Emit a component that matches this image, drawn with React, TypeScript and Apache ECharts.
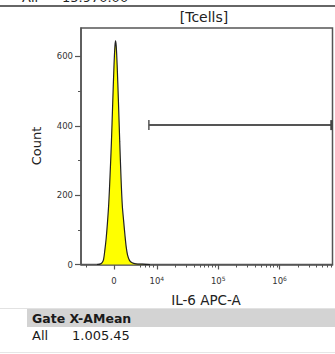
import React, { useEffect, useRef } from "react";
import * as echarts from "echarts";

// Histogram of IL-6 APC-A (x in display decades of the biexponential scale)
const channel = [
  3.024, 3.073, 3.111, 3.132, 3.153, 3.174, 3.195, 3.216, 3.237, 3.259, 3.28,
  3.301, 3.317, 3.327, 3.338, 3.353, 3.374, 3.395, 3.416, 3.437, 3.459, 3.48,
  3.501, 3.522, 3.554, 3.597, 3.659, 3.764, 3.886,
];
const counts = [
  0, 1, 6, 15, 42, 75, 120, 175, 255, 350, 462, 570, 630, 645, 630, 575, 470,
  355, 250, 170, 125, 85, 50, 28, 12, 5, 2, 1, 0,
];

const xMin = 2.764;
const xMax = 6.862;
const xMajorTicks = [3.3, 4, 5, 6];
const xMajorLabels = ["{b|0}", "{b|10}{s|4}", "{b|10}{s|5}", "{b|10}{s|6}"];
const xLinearMinor = [2.846, 3.724, 3.805, 3.87, 3.935];
const yMax = 682;
const yMajorTicks = [0, 200, 400, 600];
const yMinorTicks = [100, 300, 500];

const gateRange = [3.87, 6.862];
const gateLevel = 402;

const titleText = "[Tcells]";
const xTitle = "IL-6 APC-A";
const yTitle = "Count";
const topRow = ["All", "15.970.00"];
const statsHeader = "Gate X-AMean";
const statsRow = ["All", "1.005.45"];

const FONT = "DejaVu Sans";
const AXIS = "#555";

export default function App() {
  const ref = useRef<HTMLDivElement>(null);
  useEffect(() => {
    document.body.style.margin = "0";
    const chart = echarts.init(ref.current!, null, { renderer: "svg" });
    const xMinor: number[] = [...xLinearMinor];
    [4, 5, 6].forEach((d) => {
      for (let k = 2; k <= 9; k++) {
        const v = d + Math.log10(k);
        if (v < xMax - 0.01) xMinor.push(v);
      }
    });
    const data = channel.map((c, i) => [c, counts[i]]);
    const labelFmt = (v: number) => {
      const i = xMajorTicks.findIndex((t) => Math.abs(t - v) < 1e-6);
      return i >= 0 ? xMajorLabels[i] : "";
    };
    chart.setOption({
      animation: false,
      grid: {
        left: 81,
        top: 28,
        right: 2.5,
        bottom: 89.5,
        show: true,
        borderColor: AXIS,
        borderWidth: 1.5,
        backgroundColor: "transparent",
      },
      xAxis: [
        {
          type: "value",
          min: xMin,
          max: xMax,
          splitLine: { show: false },
          axisLine: { show: true, onZero: false, lineStyle: { color: AXIS, width: 1.5 } },
          axisTick: {
            show: true,
            length: 5,
            customValues: xMajorTicks,
            lineStyle: { color: AXIS, width: 1.2 },
          },
          axisLabel: {
            customValues: xMajorTicks,
            formatter: labelFmt,
            color: "#333",
            margin: 11,
            verticalAlign: "top",
            rich: {
              b: { fontFamily: FONT, fontSize: 8.5, color: "#333", lineHeight: 11 },
              s: { fontFamily: FONT, fontSize: 6, color: "#333", lineHeight: 11, verticalAlign: "top" },
            },
          },
        },
        {
          type: "value",
          min: xMin,
          max: xMax,
          position: "bottom",
          splitLine: { show: false },
          axisLine: { show: false },
          axisTick: {
            show: true,
            length: 3,
            customValues: xMinor,
            lineStyle: { color: AXIS, width: 1 },
          },
          axisLabel: { show: false },
        },
      ],
      yAxis: [
        {
          type: "value",
          min: 0,
          max: yMax,
          splitLine: { show: false },
          axisLine: { show: true, lineStyle: { color: AXIS, width: 1.5 } },
          axisTick: {
            show: true,
            length: 6,
            customValues: yMajorTicks,
            lineStyle: { color: AXIS, width: 1.2 },
          },
          axisLabel: {
            customValues: yMajorTicks,
            fontFamily: FONT,
            fontSize: 8.5,
            color: "#333",
            margin: 8,
          },
        },
        {
          type: "value",
          min: 0,
          max: yMax,
          position: "left",
          splitLine: { show: false },
          axisLine: { show: false },
          axisTick: {
            show: true,
            length: 3,
            customValues: yMinorTicks,
            lineStyle: { color: AXIS, width: 1 },
          },
          axisLabel: { show: false },
        },
      ],
      series: [
        {
          type: "line",
          data,
          showSymbol: false,
          smooth: 0.3,
          lineStyle: { color: "#222", width: 1.2 },
          areaStyle: { color: "#ffff00", opacity: 1 },
          z: 2,
        },
        {
          type: "custom",
          data: [[gateRange[0], gateRange[1], gateLevel]],
          renderItem: (params: any, api: any) => {
            const p0 = api.coord([api.value(0), api.value(2)]);
            const p1 = api.coord([api.value(1), api.value(2)]);
            const h = 5;
            return {
              type: "group",
              children: [
                {
                  type: "line",
                  shape: { x1: p0[0], y1: p0[1], x2: p1[0] - 1, y2: p1[1] },
                  style: { stroke: "#555", lineWidth: 2 },
                },
                {
                  type: "line",
                  shape: { x1: p0[0], y1: p0[1] - h, x2: p0[0], y2: p0[1] + h },
                  style: { stroke: "#555", lineWidth: 1.5 },
                },
                {
                  type: "line",
                  shape: { x1: p1[0] - 1, y1: p1[1] - h, x2: p1[0] - 1, y2: p1[1] + h },
                  style: { stroke: "#444", lineWidth: 2.5 },
                },
              ],
            };
          },
          z: 3,
        },
      ],
      graphic: [
        {
          type: "text",
          x: 22,
          y: 3.5,
          style: { text: topRow[0], font: `13px "${FONT}"`, fill: "#222", verticalAlign: "bottom" },
        },
        {
          type: "text",
          x: 62,
          y: 3.5,
          style: { text: topRow[1], font: `13px "${FONT}"`, fill: "#222", verticalAlign: "bottom" },
        },
        {
          type: "line",
          shape: { x1: 0, y1: 6, x2: 335, y2: 6 },
          style: { stroke: "#666", lineWidth: 2 },
        },
        {
          type: "text",
          x: 204,
          y: 17,
          style: { text: titleText, font: `14px "${FONT}"`, fill: "#222", align: "center", verticalAlign: "middle" },
        },
        {
          type: "text",
          x: 36,
          y: 146,
          rotation: Math.PI / 2,
          style: { text: yTitle, font: `13px "${FONT}"`, fill: "#222", align: "center", verticalAlign: "middle" },
        },
        {
          type: "text",
          x: 206,
          y: 300,
          style: { text: xTitle, font: `13.5px "${FONT}"`, fill: "#222", align: "center", verticalAlign: "middle" },
        },
        {
          type: "line",
          shape: { x1: 0, y1: 308.5, x2: 335, y2: 308.5 },
          style: { stroke: "#e2e2e2", lineWidth: 1 },
        },
        {
          type: "rect",
          shape: { x: 27, y: 309, width: 308, height: 18 },
          style: { fill: "#d3d3d3" },
        },
        {
          type: "text",
          x: 32,
          y: 318.5,
          style: { text: statsHeader, font: `bold 12.5px "${FONT}"`, fill: "#1a1a1a", verticalAlign: "middle" },
        },
        {
          type: "text",
          x: 32,
          y: 335,
          style: { text: statsRow[0], font: `13px "${FONT}"`, fill: "#1a1a1a", verticalAlign: "middle" },
        },
        {
          type: "text",
          x: 72,
          y: 335,
          style: { text: statsRow[1], font: `13px "${FONT}"`, fill: "#1a1a1a", verticalAlign: "middle" },
        },
        {
          type: "line",
          shape: { x1: 0, y1: 352.5, x2: 335, y2: 352.5 },
          style: { stroke: "#e6e6e6", lineWidth: 1 },
        },
      ],
    });
    return () => chart.dispose();
  }, []);
  return (
    <div
      ref={ref}
      style={{ position: "fixed", left: 0, top: 0, width: 335, height: 354, background: "#fff" }}
    />
  );
}
